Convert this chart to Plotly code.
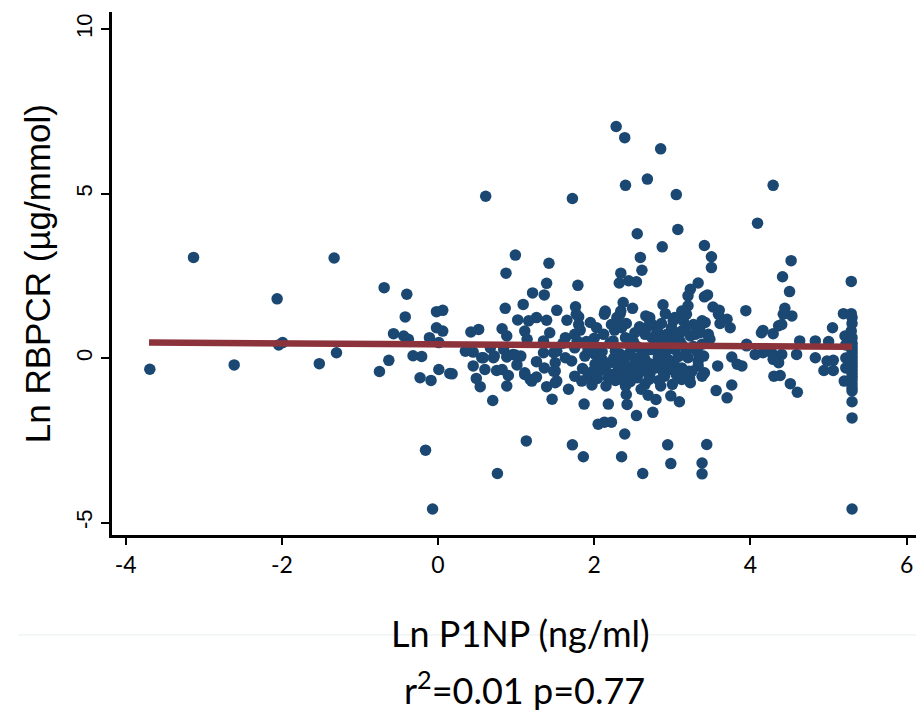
import plotly.graph_objects as go

# Ln P1NP (x) and Ln RBPCR (y)
p1np = [
    -3.69, -3.13, -1.33, -2.06, -0.69, -0.40, -0.42, -0.57, -0.44, -0.38, -0.02, 0.06, -0.02, 0.06, -0.11, 0.01,
    -2.04, -1.99, -2.61, -1.52, -1.30, -0.75, -0.63, -0.32, -0.21, -0.23, -0.09, 0.01, 0.15, -0.16, -0.07,
    2.28, 2.39, 2.85, 0.61, 1.72, 2.40, 2.68, 2.55, 2.87, 2.59, 2.61, 0.99, 0.87, 1.42, 1.39, 1.36, 1.21, 1.79,
    2.34, 2.32, 2.44, 2.54, 1.09, 0.86, 1.52, 1.76, 2.37, 2.49, 2.88, 3.05, 3.07, 3.41, 3.33, 3.23, 3.20, 3.41,
    0.70, 1.13, 0.76, 1.72, 1.86, 1.87, 2.18, 2.05, 2.13, 2.22, 2.41, 2.42, 2.39, 2.35, 2.62, 2.54, 2.75, 2.94,
    2.98, 1.46, 1.67, 1.97, 0.88, 0.54, 0.18, 3.38, 3.38, 3.44, 2.69, 2.79, 2.98, 3.09, 1.84, 1.75, 1.92, 1.52,
    1.50, 2.65, 2.71, 2.61, 3.12, 3.23, 3.21, 3.33,
    4.29, 4.09, 3.50, 3.50, 4.52, 4.41, 4.50, 5.29, 3.45, 3.52, 3.60, 3.59, 3.70, 3.74, 3.61, 3.94, 4.16, 4.44,
    4.42, 4.53, 4.36, 4.40, 4.29, 5.19, 5.29, 5.30, 5.05, 5.29, 5.21, 5.30, 4.63, 4.83, 5.00, 3.42, 3.35, 3.46,
    3.48, 3.95,
    5.30, 5.30, 5.30, 5.20, 3.56, 3.76, 3.70, 4.30, 4.38, 4.51, 4.60, 4.94, 5.06, 4.83, 4.98, 5.06, 3.58, 3.76,
    3.89, 3.83, 3.41, 3.38, 4.29, 4.36, 4.40, 4.27, 4.59, 3.95, 4.06, 4.16, 4.14,
    2.71, 3.20, 3.18, 2.74, 2.71, 3.01, 3.14, 3.27, 3.40, 2.80, 2.93, 3.10, 3.23, 3.35, 3.46,
    5.30, 5.30, 5.30, 5.30, 5.30, 5.30, 5.30, 5.30, 5.30, 5.30, 5.30, 5.30, 5.30, 5.30, 5.30, 5.30, 5.22, 5.22,
    5.22,
    1.65, 1.80, 2.14, 2.33, 2.29, 2.66, 2.91, 3.03, 3.12, 3.38, 1.75, 1.63, 1.95, 2.03, 2.22, 2.35, 2.52, 2.65,
    2.82, 2.99, 3.12, 3.29,
    1.71, 1.63, 1.50, 1.88, 2.01, 2.01, 2.14, 2.22, 2.31, 2.44, 2.56, 2.48, 2.69, 2.78, 2.86, 2.99, 3.12, 3.20,
    3.33, 3.25, 3.40, 1.52, 1.75, 1.92, 2.05, 2.27, 2.44, 2.61, 2.74, 2.91, 3.03, 3.18, 3.38,
    1.60, 1.90, 2.20, 2.50, 2.80, 3.10, 2.00, 2.40, 2.90,
    2.10, 2.25, 2.38, 2.52, 2.65, 2.82, 2.95, 2.18, 2.35, 2.55, 2.70, 2.90, 3.05, 2.10, 2.55, 2.85, 2.30, 2.62,
    2.15, 2.40, 2.60, 2.85, 3.00,
    1.02, 1.16, 1.26, 1.39, 0.42, 0.52, 0.82, 0.88, 1.11, 1.14, 1.43, 1.35, 0.35, 0.45, 0.56, 0.67, 0.72, 0.84,
    0.96, 1.06, 1.35, 1.48, 0.45, 0.60, 0.75, 0.82, 0.49, 0.90, 1.01, 1.11, 1.20, 1.26, 1.26, 1.36, 1.48, 1.39,
    1.50, 0.88, 0.99,
    0.58, 0.71, 1.11, 1.18, 1.77, 1.80, 2.13, 2.14, 2.29, 2.34, 2.67, 2.71,
    1.85, 1.97, 2.08, 2.19, 2.27, 2.33, 2.42, 2.47, 2.58, 2.63, 2.72, 2.77, 2.88, 2.93, 3.02, 3.08, 3.16, 3.27,
    2.12, 2.26, 2.41, 2.58, 2.74, 2.86, 3.02, 3.18, 1.82, 1.93, 2.24, 2.69, 3.13, 2.04, 2.46, 2.83, 3.22, 2.36,
    2.52, 2.96, 1.78, 3.32,
]
rbpcr = [
    -0.34, 3.06, 3.04, 1.80, 2.14, 1.94, 1.25, 0.74, 0.67, 0.57, 1.41, 1.45, 0.92, 0.82, 0.62, 0.47,
    0.40, 0.47, -0.21, -0.17, 0.16, -0.41, -0.07, 0.07, 0.05, -0.60, -0.68, -0.35, -0.47, -2.80, -4.59,
    7.04, 6.70, 6.36, 4.92, 4.85, 5.25, 5.44, 3.78, 3.38, 3.06, 2.67, 3.13, 2.58, 2.88, 2.27, 1.92, 1.98, 2.21,
    2.58, 2.28, 2.35, 2.32, 1.63, 1.51, 1.45, 1.56, 1.69, 1.51, 1.62, 4.97, 3.91, 3.42, 2.28, 2.09, 1.89, 1.86,
    -1.29, -2.52, -3.51, -2.64, -3.00, -1.40, -1.40, -2.01, -1.95, -1.95, -1.11, -1.41, -2.31, -3.00, -3.51, -1.75, -1.65, -2.64,
    -3.21, -1.25, -0.95, -0.82, -0.85, -0.87, -0.48, -3.19, -3.52, -2.63, -1.13, -1.26, -1.15, -1.33, -0.70, -0.55, -0.55, -0.70,
    -0.40, -0.80, -0.50, -0.40, -0.65, -0.75, -0.40, -0.09,
    5.25, 4.10, 3.08, 2.75, 2.96, 2.47, 2.02, 2.33, 1.92, 1.55, 1.45, 1.33, 1.18, 0.92, 1.05, 1.44, 0.84, 1.51,
    1.33, 1.28, 0.98, 1.02, 0.74, 1.35, 1.35, 1.23, 0.92, 0.82, 0.67, 0.62, 0.52, 0.52, 0.50, 1.08, 0.92, 0.72,
    0.57, 0.42,
    -1.33, -1.82, -4.59, -0.70, -0.99, -0.82, -1.21, -0.55, -0.53, -0.78, -1.04, -0.38, -0.38, 0.01, -0.09, -0.07, -0.24, 0.03,
    -0.24, -0.19, -0.45, -0.55, -0.04, -0.14, 0.11, 0.16, 0.11, 0.37, 0.11, 0.16, 0.77,
    -0.45, 1.59, 1.33, 1.02, 1.23, 1.13, 1.13, 1.02, 1.08, 0.77, 0.72, 0.77, 0.67, 0.77, 0.67,
    1.05, 0.45, 0.35, 0.25, 0.15, 0.05, -0.05, -0.15, -0.25, -0.35, -0.45, -0.55, -0.65, -0.78, -0.90, -1.00, 0.40, 0.00,
    -0.30,
    1.15, 1.25, 1.38, 1.33, 1.13, 1.28, 1.35, 1.23, 1.43, 1.13, 0.72, 0.62, 1.08, 0.92, 1.02, 0.92, 0.77, 0.72,
    0.77, 0.92, 0.82, 0.72,
    -0.09, 0.01, -0.14, 0.06, 0.11, -0.19, -0.30, -0.50, -0.40, -0.30, -0.19, -0.50, -0.40, -0.30, -0.19, -0.35, -0.30, 0.01,
    -0.24, -0.40, 0.06, 0.21, 0.31, 0.26, 0.31, 0.21, 0.11, 0.21, 0.26, 0.16, 0.26, 0.21, 0.42,
    0.45, 0.50, 0.45, 0.50, 0.45, 0.50, 0.60, 0.62, 0.60,
    -0.05, 0.00, -0.10, 0.00, -0.05, 0.02, -0.05, -0.60, -0.65, -0.60, -0.65, -0.55, -0.50, 0.20, 0.35, 0.30, -0.25, -0.25,
    -0.85, -0.85, -0.95, -0.85, -0.80,
    1.16, 1.13, 1.23, 1.15, 0.79, 0.87, 0.89, 0.67, 0.82, 0.57, 0.77, 0.52, 0.21, 0.18, 0.01, 0.31, 0.06, 0.26,
    0.11, 0.06, 0.16, 0.16, -0.24, -0.35, -0.38, -0.35, -0.62, -0.53, -0.21, -0.50, -0.70, -0.58, -0.11, -0.30, -0.40, -0.87,
    -0.75, 0.03, 0.09,
    0.01, 0.01, -0.45, -0.65, 1.33, 1.02, 1.33, 1.43, 1.23, 1.43, 0.92, 1.13,
    -0.32, -0.42, -0.38, -0.15, -0.68, 0.12, -0.48, 0.28, -0.38, 0.08, -0.18, 0.55, -0.42, 0.38, -0.12, 0.05, -0.48, 0.35,
    0.72, 0.85, 1.05, 0.95, 0.62, 1.05, 0.62, 0.95, 0.85, 0.28, 0.52, 0.25, 0.38, -0.62, -0.72, -0.68, -0.62, -0.28,
    -0.12, -0.25, 0.52, 0.18,
]

# fitted regression line end points
fit_x = [-3.7, 5.3]
fit_y = [0.47, 0.34]

x_ticks = [-4, -2, 0, 2, 4, 6]
x_labels = ["-4", "-2", "0", "2", "4", "6"]
y_ticks = [-5, 0, 5, 10]
y_labels = ["-5", "0", "5", "10"]

fig = go.Figure()
fig.add_trace(go.Scatter(x=p1np, y=rbpcr, mode="markers",
                         marker=dict(color="#1b4872", size=11.5, line=dict(width=0)),
                         showlegend=False, hoverinfo="x+y"))
fig.add_trace(go.Scatter(x=fit_x, y=fit_y, mode="lines",
                         line=dict(color="#8c323b", width=6.5),
                         showlegend=False, hoverinfo="skip"))

# page body adds an 8px offset, so the figure is 8px smaller than the window
fig.update_layout(
    width=916, height=703,
    margin=dict(l=104, r=4, t=4, b=176),
    plot_bgcolor="white", paper_bgcolor="white",
    xaxis=dict(range=[-4.174, 6.17], tickvals=x_ticks, ticktext=x_labels, showgrid=False, zeroline=False,
               showline=True, linecolor="black", linewidth=3,
               ticks="outside", ticklen=7, tickwidth=2, tickcolor="black",
               tickfont=dict(family="Liberation Sans Narrow, Lato, sans-serif", size=23, color="black")),
    yaxis=dict(range=[-5.38, 10.52], tickvals=y_ticks, ticktext=y_labels, showgrid=False, zeroline=False,
               showline=True, linecolor="black", linewidth=3,
               ticks="outside", ticklen=8, tickwidth=2, tickcolor="black", tickangle=-90,
               tickfont=dict(family="Liberation Sans, Arial, sans-serif", size=22, color="black")),
    shapes=[dict(type="line", xref="paper", yref="paper", x0=-0.116, x1=1.005, y0=-0.191, y1=-0.191,
                 line=dict(color="#e6eeee", width=1), layer="below")],
    annotations=[
        dict(text="Ln RBPCR (µg/mmol)", xref="paper", yref="paper", x=-0.092, y=0.5,
             textangle=-90, showarrow=False, xanchor="center", yanchor="middle",
             font=dict(family="Liberation Sans, Arial, sans-serif", size=35, color="black")),
        dict(text="Ln P1NP (ng/ml)", xref="paper", yref="paper", x=0.505, y=-0.187,
             showarrow=False, xanchor="center", yanchor="middle",
             font=dict(family="Lato, Open Sans, sans-serif", size=36, color="black")),
        dict(text="r<sup>2</sup>=0.01 p=0.77", xref="paper", yref="paper", x=0.511, y=-0.2925,
             showarrow=False, xanchor="center", yanchor="middle",
             font=dict(family="Lato, Open Sans, sans-serif", size=36, color="black")),
    ],
)

fig.write_html("out.html")
